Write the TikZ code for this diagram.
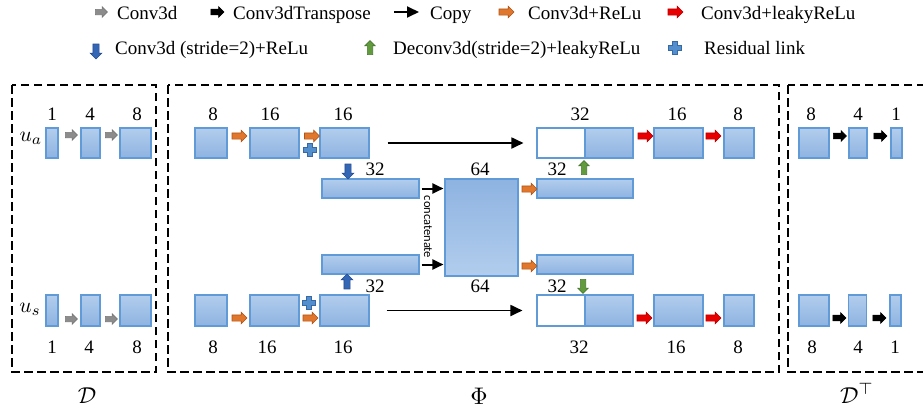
\documentclass[tikz,border=0pt]{standalone}
\usepackage{fontspec}
\setmainfont{Liberation Serif}
\newfontfamily\concatfont{Carlito}
\usetikzlibrary{shapes.arrows,arrows.meta,calc}
\definecolor{boxtop}{RGB}{178,205,237}
\definecolor{boxbot}{RGB}{142,179,225}
\definecolor{boxedge}{RGB}{96,155,215}
\definecolor{grayarr}{RGB}{140,140,140}
\definecolor{orfill}{RGB}{225,118,45}
\definecolor{ordraw}{RGB}{175,85,25}
\definecolor{redarr}{RGB}{232,0,0}
\definecolor{bluearr}{RGB}{52,102,182}
\definecolor{bluedraw}{RGB}{40,78,145}
\definecolor{greenarr}{RGB}{98,155,62}
\definecolor{greendraw}{RGB}{70,120,45}
\definecolor{plusfill}{RGB}{82,143,204}
\definecolor{plusdraw}{RGB}{55,105,165}
\tikzset{
  blk/.style={draw=boxedge, line width=1.1pt, top color=boxtop, bottom color=boxbot, inner sep=0pt},
  blkrev/.style={draw=boxedge, line width=1.1pt, top color=boxbot, bottom color=boxtop, inner sep=0pt},
  blkwhite/.style={draw=boxedge, line width=1.1pt, fill=white, inner sep=0pt},
  fat/.style={single arrow, inner sep=2.75pt, single arrow head extend=2.75pt, single arrow head indent=0pt, minimum height=15pt, line width=0.6pt},
  gr/.style={fat, fill=grayarr, draw=grayarr!85!black, minimum height=12pt, inner sep=2.4pt, single arrow head extend=2.6pt},
  ora/.style={fat, fill=orfill, draw=ordraw},
  rd/.style={fat, fill=redarr, draw=redarr!80!black},
  bk/.style={fat, fill=black, draw=black, minimum height=13pt, inner sep=2.5pt, single arrow head extend=2.5pt},
  bd/.style={fat, fill=bluearr, draw=bluedraw, shape border rotate=270},
  bu/.style={fat, fill=bluearr, draw=bluedraw, shape border rotate=90},
  gu/.style={fat, fill=greenarr, draw=greendraw, minimum height=14pt, inner sep=2.4pt, single arrow head extend=2.4pt, shape border rotate=90},
  gd/.style={fat, fill=greenarr, draw=greendraw, minimum height=14pt, inner sep=2.4pt, single arrow head extend=2.4pt, shape border rotate=270},
  copyarr/.style={line width=1.8pt, -{Triangle[length=12pt,width=11pt]}},
  catarr/.style={line width=2pt, -{Triangle[length=11pt,width=10pt]}},
  lbl/.style={font=\fontsize{19}{22}\selectfont, inner sep=0pt},
  dashbox/.style={line width=2.6pt, dash pattern=on 8.5pt off 4.5pt},
  pics/resplus/.style={code={\filldraw[fill=plusfill, draw=plusdraw, line width=0.6pt]
    (-2.4,-6.5) -- (2.4,-6.5) -- (2.4,-2.4) -- (6.5,-2.4) -- (6.5,2.4) -- (2.4,2.4) -- (2.4,6.5)
    -- (-2.4,6.5) -- (-2.4,2.4) -- (-6.5,2.4) -- (-6.5,-2.4) -- (-2.4,-2.4) -- cycle;}}
}
\begin{document}
\begin{tikzpicture}[x=1pt,y=-1pt]
\useasboundingbox (0,0) rectangle (923,410);

% ---------- legend ----------
\node[gr] (lg1) at (100,12) {};
\node[lbl, anchor=base west] (lt1) at (117,19) {Conv3d};
\node[bk] (lg2) at (216,12) {};
\node[lbl, anchor=base west] (lt2) at (233,19) {Conv3dTranspose};
\coordinate (lc1) at (394,12);
\coordinate (lc2) at (419,12);
\draw[copyarr] (lc1) -- (lc2);
\node[lbl, anchor=base west] (lt3) at (430,19) {Copy};
\node[ora] (lg4) at (505,12) {};
\node[lbl, anchor=base west] (lt4) at (528,19) {Conv3d+ReLu};
\node[rd] (lg5) at (674,12) {};
\node[lbl, anchor=base west] (lt5) at (701,19) {Conv3d+leakyReLu};
\node[bd] (lg6) at (96,50) {};
\node[lbl, anchor=base west] (lt6) at (115,54) {Conv3d (stride=2)+ReLu};
\node[gu] (lg7) at (370,49) {};
\node[lbl, anchor=base west] (lt7) at (393,54) {Deconv3d(stride=2)+leakyReLu};
\pic at (675,48) {resplus};
\node[lbl, anchor=base west] (lt8) at (704,54) {Residual link};

% ---------- dashed panels ----------
\draw[dashbox] (12,85) rectangle (156,372);
\draw[dashbox] (168,85) rectangle (779,372);
\draw[dashbox] (788,85) rectangle (940,372);

% ---------- left panel D ----------
\node[inner sep=0pt, anchor=base] (ua) at (31,141) {\scalebox{2.15}{$u_a$}};
\node[blk, minimum width=12pt, minimum height=30pt] (la1) at (52,143) {};
\node[blk, minimum width=19pt, minimum height=30pt] (la2) at (90.5,143) {};
\node[blk, minimum width=31pt, minimum height=30pt] (la3) at (135.5,143) {};
\node[gr] (ga1) at (70,135) {};
\node[gr] (ga2) at (110,135) {};
\node[lbl, anchor=base] at (52,120) {1};
\node[lbl, anchor=base] at (90,120) {4};
\node[lbl, anchor=base] at (137,120) {8};

\node[inner sep=0pt, anchor=base] (us) at (30,312) {\scalebox{2.15}{$u_s$}};
\node[blk, minimum width=12pt, minimum height=31pt] (ls1) at (52,310.5) {};
\node[blk, minimum width=19pt, minimum height=31pt] (ls2) at (90.5,310.5) {};
\node[blk, minimum width=31pt, minimum height=31pt] (ls3) at (135.5,310.5) {};
\node[gr] (gs1) at (70,319) {};
\node[gr] (gs2) at (110,319) {};
\node[lbl, anchor=base] at (52,353) {1};
\node[lbl, anchor=base] at (89,353) {4};
\node[lbl, anchor=base] at (137,353) {8};

% ---------- middle panel Phi: top row ----------
\node[blk, minimum width=32pt, minimum height=30pt] (b1) at (211,143) {};
\node[blk, minimum width=49pt, minimum height=30pt] (b2) at (274.5,143) {};
\node[blk, minimum width=49pt, minimum height=30pt] (b3) at (344.5,143) {};
\node[ora] (oa1) at (238,136) {};
\node[ora] (oa2) at (310.5,136) {};
\pic at (310,150) {resplus};
\node[lbl, anchor=base] at (213,120) {8};
\node[lbl, anchor=base] at (270,120) {16};
\node[lbl, anchor=base] at (343,120) {16};

\node[blkwhite, minimum width=48pt, minimum height=30pt] (cAw) at (561,143) {};
\node[blk, minimum width=48pt, minimum height=30pt] (cAb) at (609,143) {};
\node[blk, minimum width=49pt, minimum height=30pt] (r2) at (678.5,143) {};
\node[blk, minimum width=30pt, minimum height=30pt] (r3) at (739,143) {};
\node[rd] (ra1) at (644,136) {};
\node[rd] (ra2) at (712,136) {};
\node[lbl, anchor=base] at (580,120) {32};
\node[lbl, anchor=base] at (677,120) {16};
\node[lbl, anchor=base] at (738,120) {8};
\draw[copyarr, shorten <=18pt, shorten >=13pt] (b3.east) -- (cAw.west);

% ---------- middle: inner rows ----------
\node[blk, minimum width=97pt, minimum height=19pt] (m1) at (370.5,188.5) {};
\node[blk, minimum width=97pt, minimum height=19pt] (m2) at (370.5,264.5) {};
\node[blkrev, minimum width=73pt, minimum height=97pt] (big) at (481.5,227.5) {};
\node[blk, minimum width=96pt, minimum height=19pt] (m3) at (585,188.5) {};
\node[blk, minimum width=96pt, minimum height=19pt] (m4) at (585,264.5) {};
\draw[catarr, shorten <=2pt, shorten >=1pt] (m1.east) -- (m1.east -| big.west);
\draw[catarr, shorten <=2pt, shorten >=1pt] (m2.east) -- (m2.east -| big.west);
\node[rotate=-90, inner sep=0pt, font=\concatfont\fontsize{12.5}{14}\selectfont] (cat) at (428,227) {concatenate};
\node[ora] (om3) at (528,189) {};
\node[ora] (om4) at (528,266) {};
\node[bd] (bdn) at (348,170) {};
\node[gu] (gup) at (584,169) {};
\node[lbl, anchor=base] at (375,175) {32};
\node[lbl, anchor=base] at (480,175) {64};
\node[lbl, anchor=base] at (557,175) {32};
\node[bu] (bup) at (347,283) {};
\node[gd] (gdn) at (583,285) {};
\node[lbl, anchor=base] at (375,292) {32};
\node[lbl, anchor=base] at (480,292) {64};
\node[lbl, anchor=base] at (557,292) {32};

% ---------- middle: bottom row ----------
\node[blk, minimum width=32pt, minimum height=31pt] (s1) at (211,310.5) {};
\node[blk, minimum width=49pt, minimum height=31pt] (s2) at (274.5,310.5) {};
\node[blk, minimum width=49pt, minimum height=31pt] (s3) at (344.5,310.5) {};
\node[ora] (os1) at (238,318) {};
\node[ora] (os2) at (309,318) {};
\pic at (309,303) {resplus};
\node[lbl, anchor=base] at (213,353) {8};
\node[lbl, anchor=base] at (267,353) {16};
\node[lbl, anchor=base] at (343,353) {16};

\node[blkwhite, minimum width=48pt, minimum height=31pt] (cBw) at (561,310.5) {};
\node[blk, minimum width=48pt, minimum height=31pt] (cBb) at (609,310.5) {};
\node[blk, minimum width=49pt, minimum height=31pt] (q2) at (678.5,310.5) {};
\node[blk, minimum width=30pt, minimum height=31pt] (q3) at (739,310.5) {};
\node[rd] (rb1) at (643,318) {};
\node[rd] (rb2) at (712,318) {};
\node[lbl, anchor=base] at (579,353) {32};
\node[lbl, anchor=base] at (676,353) {16};
\node[lbl, anchor=base] at (738,353) {8};
\draw[copyarr, shorten <=17pt, shorten >=14pt] (s3.east) -- (cBw.west);

% ---------- right panel D^T ----------
\node[blk, minimum width=30pt, minimum height=30pt] (d1) at (814,143) {};
\node[blk, minimum width=18pt, minimum height=30pt] (d2) at (858,143) {};
\node[blk, minimum width=11pt, minimum height=30pt] (d3) at (896.5,143) {};
\node[bk] (ka1) at (838.5,136) {};
\node[bk] (ka2) at (879,136) {};
\node[lbl, anchor=base] at (811,120) {8};
\node[lbl, anchor=base] at (858,120) {4};
\node[lbl, anchor=base] at (896,120) {1};

\node[blk, minimum width=30pt, minimum height=31pt] (e1) at (814,310.5) {};
\node[blk, minimum width=18pt, minimum height=31pt] (e2) at (857.5,310.5) {};
\node[blk, minimum width=11pt, minimum height=31pt] (e3) at (895.5,310.5) {};
\node[bk] (kb1) at (838,318) {};
\node[bk] (kb2) at (878,318) {};
\node[lbl, anchor=base] at (812,353) {8};
\node[lbl, anchor=base] at (858,353) {4};
\node[lbl, anchor=base] at (895,353) {1};

% ---------- panel names ----------
\node[inner sep=0pt, anchor=base] (nD) at (87,403) {\scalebox{2.3}{$\mathcal{D}$}};
\node[inner sep=0pt, anchor=base] (nP) at (479,404) {\scalebox{2.4}{$\Phi$}};
\node[inner sep=0pt, anchor=base] (nT) at (857,403) {\scalebox{2.3}{$\mathcal{D}^{\top}$}};
\end{tikzpicture}
\end{document}
